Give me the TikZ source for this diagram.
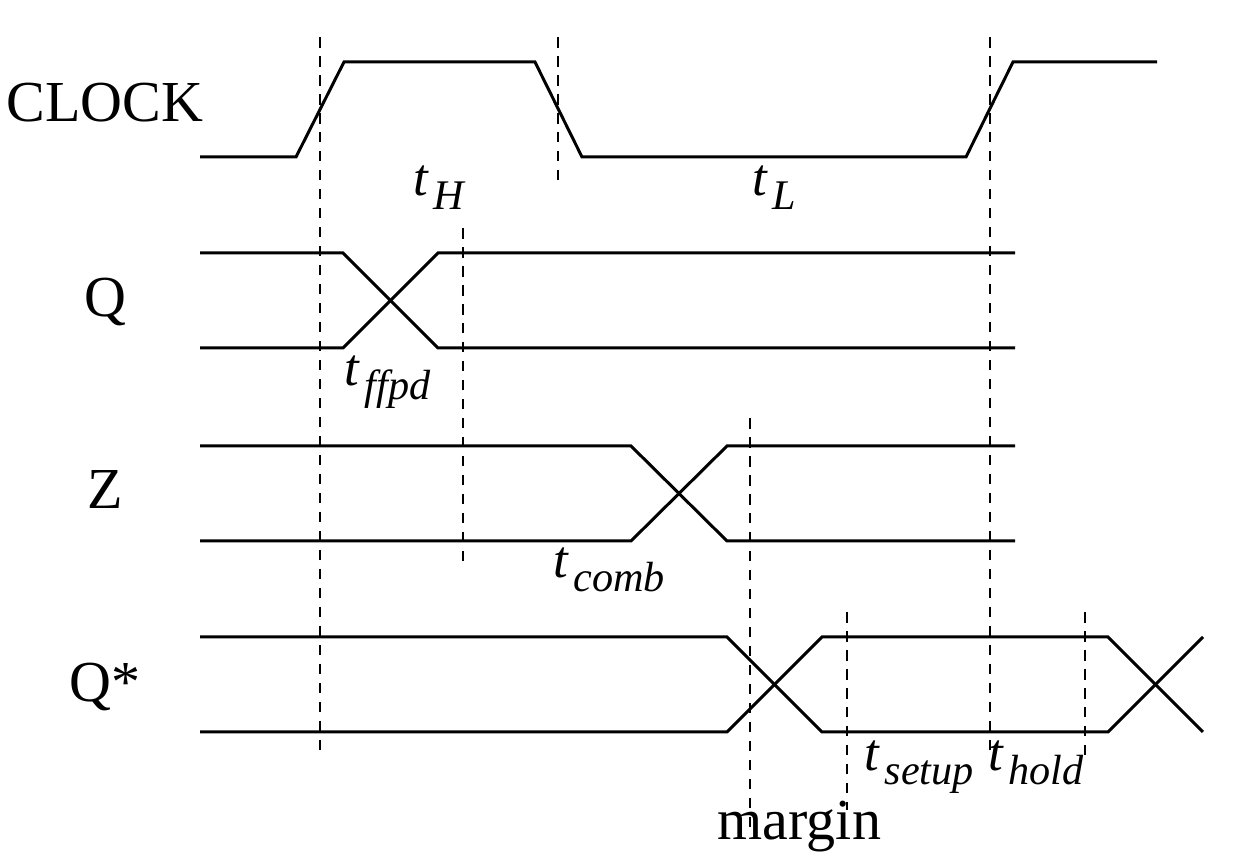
\documentclass[tikz,border=0pt]{standalone}
\usepackage{fontspec}
\setmainfont{Liberation Serif}
\newcommand{\sig}[1]{{\fontsize{16.5}{20}\selectfont #1}}
\newcommand{\tlab}[1]{{\fontsize{15}{18}\selectfont\itshape t\kern1.5pt\raisebox{-0.26em}{\fontsize{12}{14}\selectfont #1}}}
\tikzset{
  wave/.style={line width=0.85pt,line join=miter},
  guide/.style={line width=0.8pt,dash pattern=on 3pt off 2.4pt}
}
\begin{document}
\begin{tikzpicture}[x=0.01cm,y=-0.01cm]
\useasboundingbox (0,0) rectangle (1238,864);
\foreach \xa/\ya/\yb in {320/37/757,558/37/185,463/228/568,990/37/757,750/418/835,847/612/810,1085/612/760}
  \draw[guide] (\xa,\ya)--(\xa,\yb);
\draw[wave] (200,157)--(296,157)--(344,62)--(535,62)--(582,157)--(966,157)--(1013,62)--(1157,62);
\draw[wave] (200,253)--(343,253)--(438,348)--(1015,348);
\draw[wave] (200,348)--(343,348)--(438,253)--(1015,253);
\draw[wave] (200,446)--(631,446)--(727,541)--(1015,541);
\draw[wave] (200,541)--(631,541)--(727,446)--(1015,446);
\draw[wave] (200,637)--(727,637)--(822,732)--(1108,732)--(1203,637);
\draw[wave] (200,732)--(727,732)--(822,637)--(1108,637)--(1203,732);
\node[anchor=base west,inner sep=0] (clk) at (6,122) {\sig{CLOCK}};
\node[anchor=base,inner sep=0] (q) at (105,317) {\sig{Q}};
\node[anchor=base,inner sep=0] (z) at (105,509) {\sig{Z}};
\node[anchor=base,inner sep=0] (qs) at (105,702) {\sig{Q*}};
\node[anchor=base west,inner sep=0] (th) at (413,196) {\tlab{H}};
\node[anchor=base west,inner sep=0] (tl) at (752,196) {\tlab{L}};
\node[anchor=base west,inner sep=0] (tff) at (344,386) {\tlab{ffpd}};
\node[anchor=base west,inner sep=0] (tc) at (553,578) {\tlab{comb}};
\node[anchor=base west,inner sep=0] (ts) at (864,771) {\tlab{setup}};
\node[anchor=base west,inner sep=0] (tho) at (988,771) {\tlab{hold}};
\node[anchor=base west,inner sep=0] (mg) at (717,840) {\sig{margin}};
\end{tikzpicture}
\end{document}
